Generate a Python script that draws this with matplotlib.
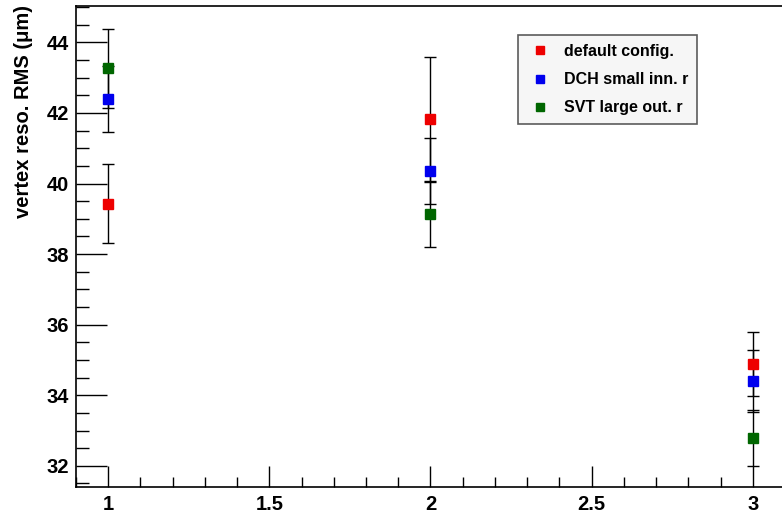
import matplotlib
matplotlib.use("Agg")
import matplotlib.pyplot as plt
from matplotlib.ticker import MultipleLocator

plt.rcParams['font.family'] = ['Liberation Sans', 'DejaVu Sans']

x = [1, 2, 3]
labels = ["default config.", "DCH small inn. r", "SVT large out. r"]
colors = ["#ee0000", "#0000ee", "#006600"]
default_y = [39.43, 41.82, 34.89]
default_err = [1.11, 1.77, 0.90]
dch_y = [42.39, 40.35, 34.40]
dch_err = [0.94, 0.93, 0.87]
svt_y = [43.26, 39.14, 32.79]
svt_err = [1.13, 0.94, 0.79]

fig = plt.figure(figsize=(7.82, 5.2), dpi=100)
ax = fig.add_axes([76/782, 33/520, (785-76)/782, (487-6)/520])

series = [(default_y, default_err), (dch_y, dch_err), (svt_y, svt_err)]
handles = []
for (ys, es), c, lab in zip(series, colors, labels):
    ax.errorbar(x, ys, yerr=es, fmt='none', ecolor='black', elinewidth=1.0,
                capsize=4, capthick=1.0, zorder=2)
    h, = ax.plot(x, ys, linestyle='none', marker='s', markersize=7.5,
                 color=c, markeredgecolor=c, zorder=3, label=lab)
    handles.append(h)

ax.set_xlim(0.9, 3.1)
ax.set_ylim(31.4, 45.03)
ax.xaxis.set_major_locator(MultipleLocator(0.5))
ax.xaxis.set_minor_locator(MultipleLocator(0.1))
ax.yaxis.set_major_locator(MultipleLocator(2))
ax.yaxis.set_minor_locator(MultipleLocator(0.5))
ax.set_xticks([1, 1.5, 2, 2.5, 3])
ax.set_xticklabels(["1", "1.5", "2", "2.5", "3"])
ax.tick_params(axis='both', which='both', direction='in', labelsize=14.5,
               width=1.0, color='black')
ax.tick_params(axis='y', which='major', length=22, pad=5)
ax.tick_params(axis='y', which='minor', length=9)
ax.tick_params(axis='x', which='major', length=15, pad=6)
ax.tick_params(axis='x', which='minor', length=7)
for lbl in ax.get_xticklabels() + ax.get_yticklabels():
    lbl.set_fontweight('bold')
for s in ax.spines.values():
    s.set_linewidth(1.2)
    s.set_color('black')

ax.set_ylabel("vertex reso. RMS (μm)", fontsize=14.5, fontweight='bold')
ax.yaxis.set_label_coords(-(76-33)/709, 1 - (111-6)/481)

leg = ax.legend(handles=handles, loc='upper left',
                bbox_to_anchor=((518-76)/709, 1 - (35-6)/481),
                frameon=True, fancybox=False, prop={'weight': 'bold', 'size': 11.5},
                handlelength=1.6, handletextpad=0.7, labelspacing=0.83,
                borderpad=0.56, borderaxespad=0, markerscale=0.85)
leg.get_frame().set_facecolor('#f4f4f4')
leg.get_frame().set_edgecolor('#333333')
leg.get_frame().set_linewidth(1.2)

fig.savefig("out.png", dpi=100)
